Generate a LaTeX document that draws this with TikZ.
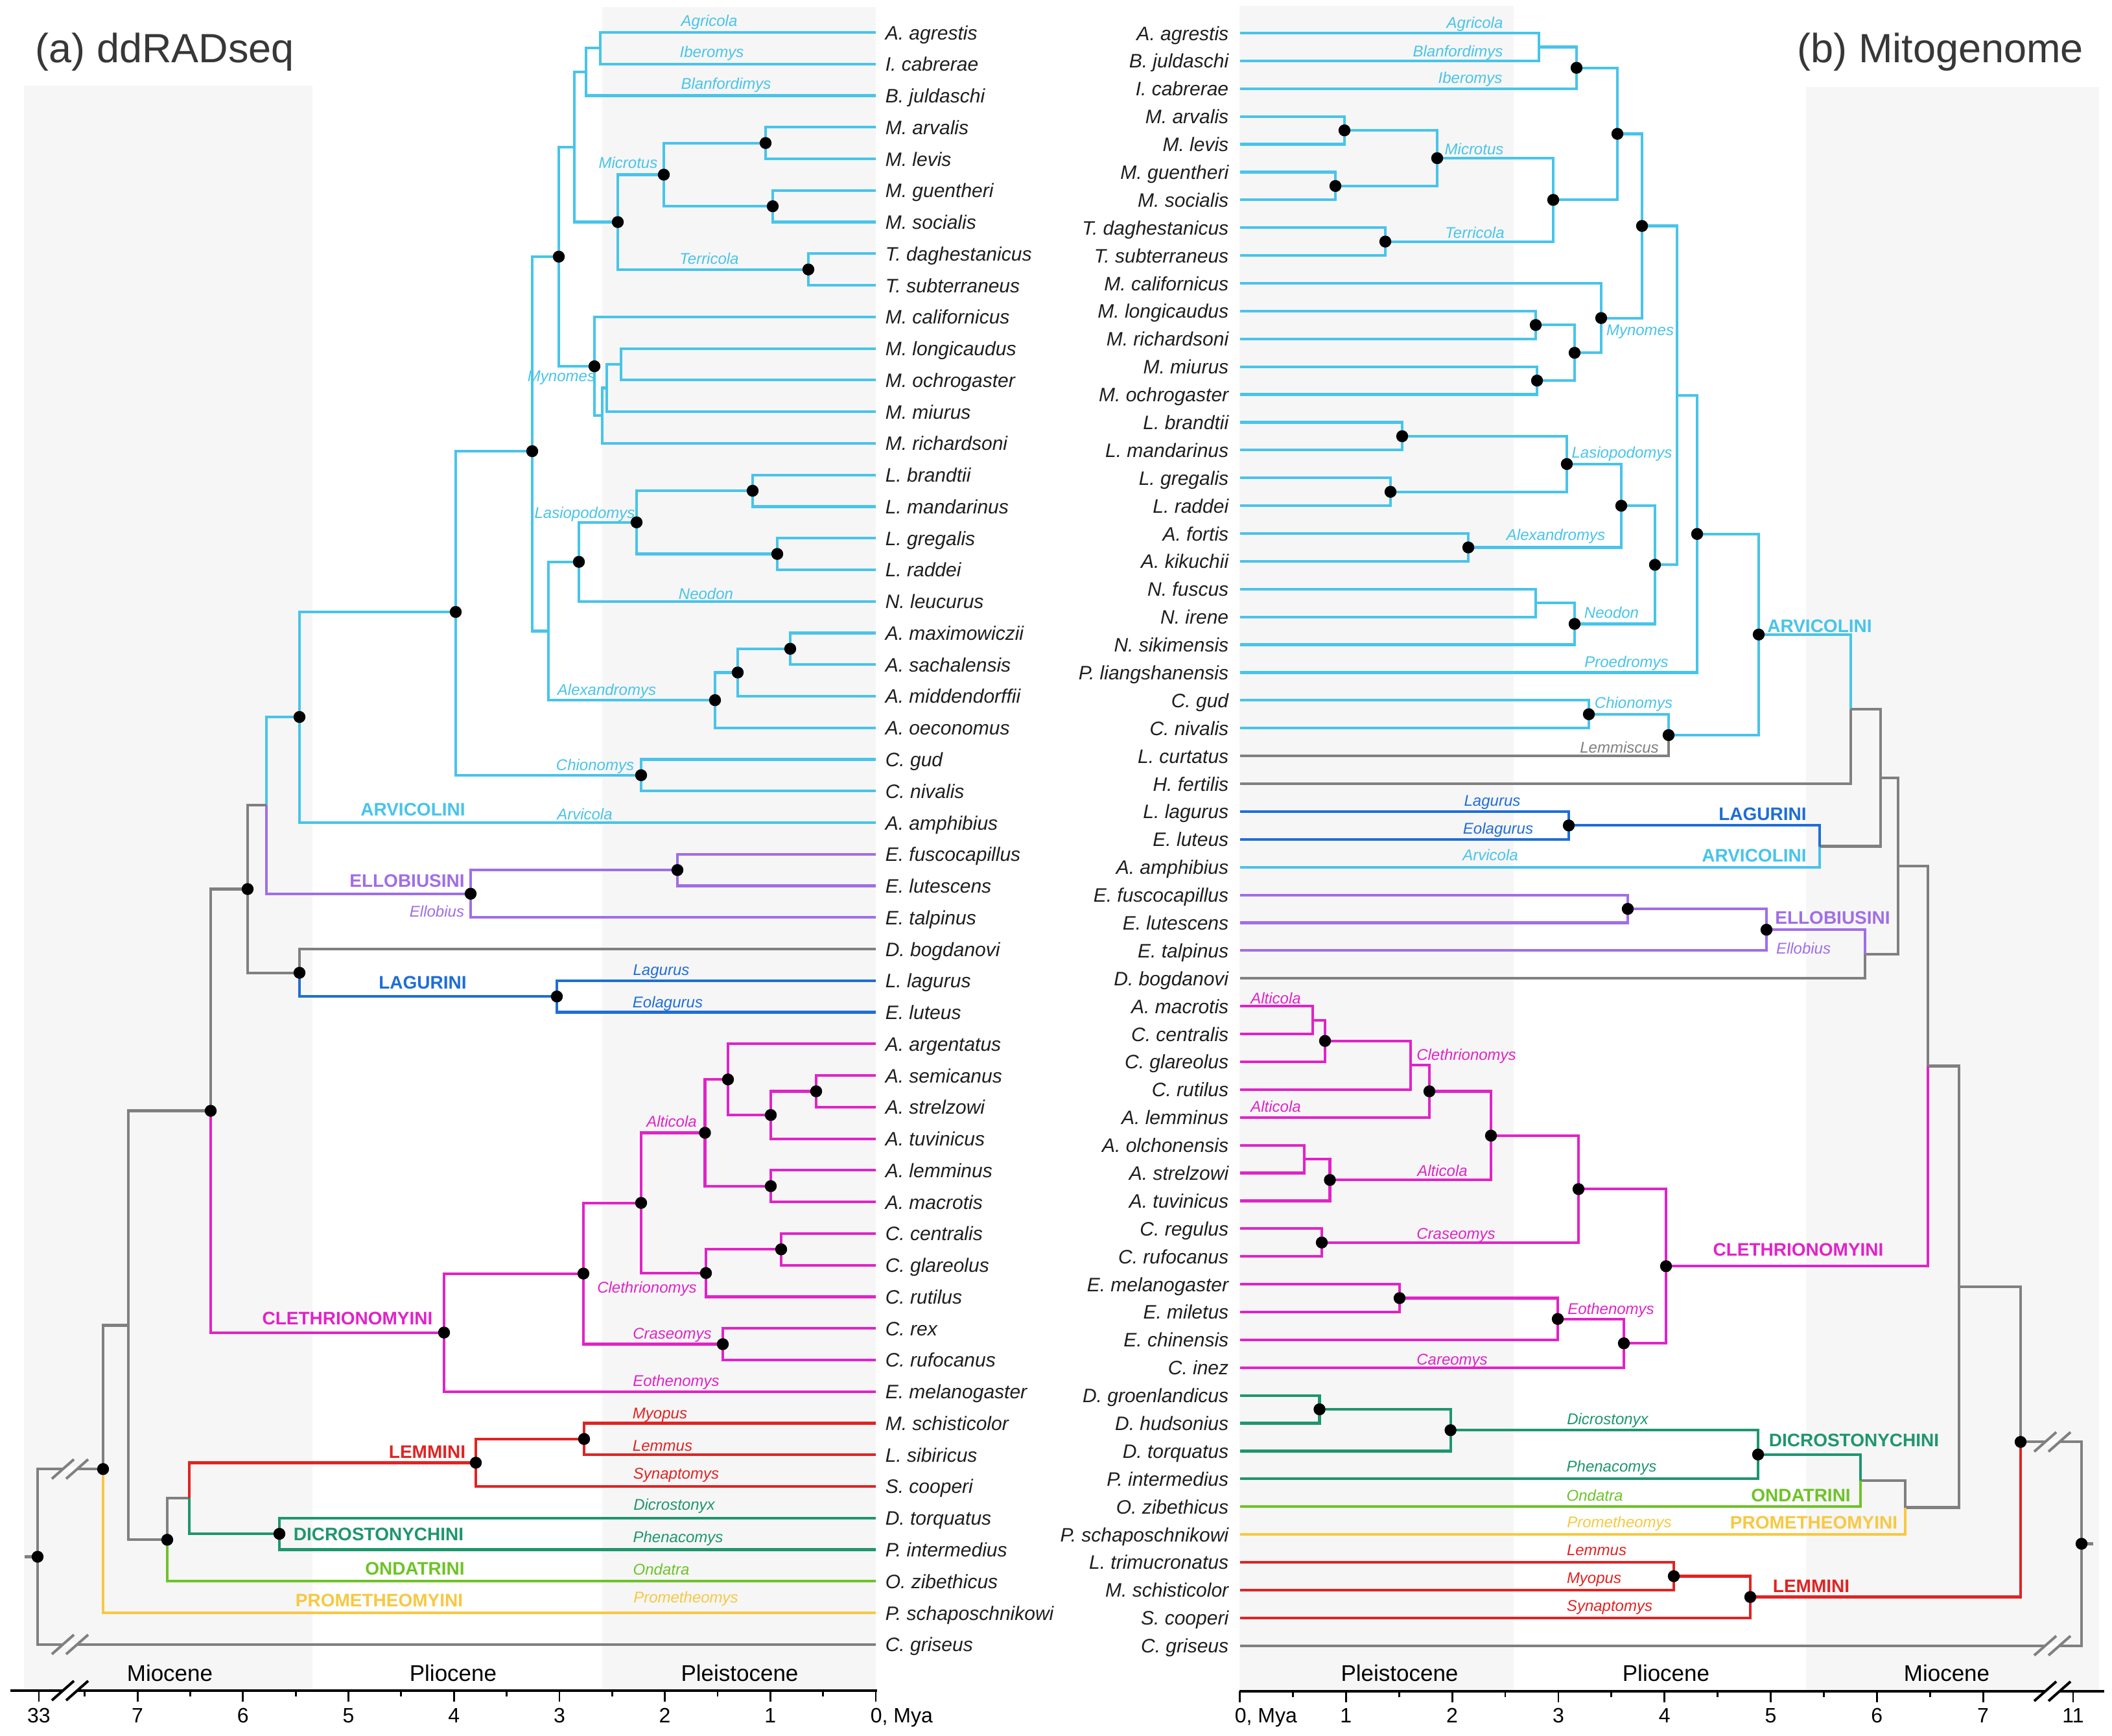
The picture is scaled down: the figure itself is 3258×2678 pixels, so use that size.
\documentclass[tikz,border=0pt]{standalone}
\usepackage{fontspec}
\setmainfont{Liberation Sans}
\definecolor{cyb}{RGB}{72,196,234}
\definecolor{lagb}{RGB}{30,110,215}
\definecolor{purp}{RGB}{160,110,230}
\definecolor{magc}{RGB}{225,35,200}
\definecolor{redc}{RGB}{225,35,35}
\definecolor{tealc}{RGB}{30,150,110}
\definecolor{grnc}{RGB}{110,195,40}
\definecolor{yelc}{RGB}{248,200,65}
\definecolor{gryc}{RGB}{128,128,128}
\definecolor{bgs}{RGB}{246,246,246}
\definecolor{spc}{RGB}{30,30,30}
\definecolor{ttl}{RGB}{55,55,55}
\newcommand\brkmark[4]{%
  \draw[white,line width=1.8pt] (#1,#3) -- (#2,#3);
  \draw[#4,line width=1pt] ({#1-17},{#3+15}) -- ({#1+17},{#3-15});
  \draw[#4,line width=1pt] ({#2-17},{#3+15}) -- ({#2+17},{#3-15});}
\begin{document}
\begin{tikzpicture}[x=0.25pt,y=-0.25pt,
  br/.style={line width=1.05pt},
  sp/.style={font=\fontsize{7.5pt}{9pt}\selectfont\itshape, text=spc, inner sep=0pt},
  gen/.style={font=\fontsize{6pt}{7pt}\selectfont\itshape, inner sep=0pt, anchor=base},
  trb/.style={font=\fontsize{7pt}{8pt}\selectfont\bfseries, inner sep=0pt, anchor=base},
  epo/.style={font=\fontsize{8.75pt}{10pt}\selectfont, inner sep=0pt, anchor=base},
  tkl/.style={font=\fontsize{8pt}{9pt}\selectfont, inner sep=0pt, anchor=base},
  dot/.style={fill=black}]
\useasboundingbox (0,0) rectangle (3258,2678);
\fill[white] (0,0) rectangle (3258,2678);
% epoch shading
\fill[bgs] (37,132) rectangle (482,2607);
\fill[bgs] (929,11) rectangle (1351,2607);
\fill[bgs] (1912,9) rectangle (2335,2607);
\fill[bgs] (2786,134) rectangle (3238,2607);
% titles
\node[font=\fontsize{15.75pt}{18pt}\selectfont, text=ttl, inner sep=0pt, anchor=base west] (ta) at (54,96) {(a) ddRADseq};
\node[font=\fontsize{15.75pt}{18pt}\selectfont, text=ttl, inner sep=0pt, anchor=base west] (tb) at (2772,96) {(b) Mitogenome};
% ---------------- left species
\foreach \i/\n in {1/A. agrestis,2/I. cabrerae,3/B. juldaschi,4/M. arvalis,5/M. levis,6/M. guentheri,7/M. socialis,8/T. daghestanicus,9/T. subterraneus,10/M. californicus,11/M. longicaudus,12/M. ochrogaster,13/M. miurus,14/M. richardsoni,15/L. brandtii,16/L. mandarinus,17/L. gregalis,18/L. raddei,19/N. leucurus,20/A. maximowiczii,21/A. sachalensis,22/A. middendorffii,23/A. oeconomus,24/C. gud,25/C. nivalis,26/A. amphibius,27/E. fuscocapillus,28/E. lutescens,29/E. talpinus,30/D. bogdanovi,31/L. lagurus,32/E. luteus,33/A. argentatus,34/A. semicanus,35/A. strelzowi,36/A. tuvinicus,37/A. lemminus,38/A. macrotis,39/C. centralis,40/C. glareolus,41/C. rutilus,42/C. rex,43/C. rufocanus,44/E. melanogaster,45/M. schisticolor,46/L. sibiricus,47/S. cooperi,48/D. torquatus,49/P. intermedius,50/O. zibethicus,51/P. schaposchnikowi,52/C. griseus}{
  \pgfmathsetmacro\yy{50+(\i-1)*48.76}
  \coordinate (la\i) at (1351,\yy);
  \node[sp,anchor=base west] (lt\i) at (1365,{\yy+11}) {\n};
}
% ---------------- right species
\foreach \i/\n in {1/A. agrestis,2/B. juldaschi,3/I. cabrerae,4/M. arvalis,5/M. levis,6/M. guentheri,7/M. socialis,8/T. daghestanicus,9/T. subterraneus,10/M. californicus,11/M. longicaudus,12/M. richardsoni,13/M. miurus,14/M. ochrogaster,15/L. brandtii,16/L. mandarinus,17/L. gregalis,18/L. raddei,19/A. fortis,20/A. kikuchii,21/N. fuscus,22/N. irene,23/N. sikimensis,24/P. liangshanensis,25/C. gud,26/C. nivalis,27/L. curtatus,28/H. fertilis,29/L. lagurus,30/E. luteus,31/A. amphibius,32/E. fuscocapillus,33/E. lutescens,34/E. talpinus,35/D. bogdanovi,36/A. macrotis,37/C. centralis,38/C. glareolus,39/C. rutilus,40/A. lemminus,41/A. olchonensis,42/A. strelzowi,43/A. tuvinicus,44/C. regulus,45/C. rufocanus,46/E. melanogaster,47/E. miletus,48/E. chinensis,49/C. inez,50/D. groenlandicus,51/D. hudsonius,52/D. torquatus,53/P. intermedius,54/O. zibethicus,55/P. schaposchnikowi,56/L. trimucronatus,57/M. schisticolor,58/S. cooperi,59/C. griseus}{
  \pgfmathsetmacro\yy{51+(\i-1)*42.89}
  \coordinate (ra\i) at (1912.5,\yy);
  \node[sp,anchor=base east] (rt\i) at (1896,{\yy+11}) {\n};
}
% ---------------- left internal nodes
\coordinate (L_agib) at (926,74.38);
\coordinate (L_agibbl) at (904,110.95);
\coordinate (L_arle) at (1181,220.66);
\coordinate (L_guso) at (1192,318.18);
\coordinate (L_micro) at (1024,269.42);
\coordinate (L_terr) at (1247,415.7);
\coordinate (L_mt) at (953,342.56);
\coordinate (L_abmt) at (886,226.76);
\coordinate (L_lo) at (958,561.98);
\coordinate (L_lom) at (936,598.55);
\coordinate (L_lomr) at (929,641.22);
\coordinate (L_myn) at (917,565.03);
\coordinate (L_3) at (862,395.9);
\coordinate (L_brma) at (1161,757.02);
\coordinate (L_grra) at (1199,854.54);
\coordinate (L_lasio) at (982,805.78);
\coordinate (L_lasne) at (893,866.73);
\coordinate (L_masa) at (1219,1000.82);
\coordinate (L_masmi) at (1138,1037.39);
\coordinate (L_alex) at (1103,1080.06);
\coordinate (L_lna) at (846,973.4);
\coordinate (L_325) at (821,696);
\coordinate (L_chio) at (989,1195.86);
\coordinate (L_398) at (703,944);
\coordinate (L_arv) at (462,1106);
\coordinate (L_fulu) at (1045,1342.14);
\coordinate (L_ell) at (726,1378.71);
\coordinate (L_411) at (411,1242.35);
\coordinate (L_lag) at (859,1537.18);
\coordinate (L_bog) at (462,1500.61);
\coordinate (L_382) at (382,1371.48);
\coordinate (L_sest) at (1259,1683.46);
\coordinate (L_sestu) at (1189,1720.03);
\coordinate (L_arg) at (1123,1665.18);
\coordinate (L_lema) at (1189,1829.74);
\coordinate (L_alti) at (1087.5,1747.46);
\coordinate (L_cegl) at (1205,1927.26);
\coordinate (L_cleth) at (1089,1963.83);
\coordinate (L_alcl) at (989,1855.65);
\coordinate (L_cras) at (1115,2073.54);
\coordinate (L_277) at (900,1964.6);
\coordinate (L_clm) at (685,2055.64);
\coordinate (L_325g) at (325,1713.56);
\coordinate (L_mysi) at (901,2219.82);
\coordinate (L_lemm) at (734,2256.39);
\coordinate (L_dic) at (431,2366.1);
\coordinate (L_292) at (292,2311.25);
\coordinate (L_258) at (258,2375.25);
\coordinate (L_198) at (198,2044.4);
\coordinate (L_159) at (159,2266.2);
\coordinate (L_root) at (58,2401.48);
\coordinate (L_stub) at (38,2401.48);
% ---------------- right internal nodes
\coordinate (R_agbj) at (2374,72.45);
\coordinate (R_agbjib) at (2432,104.61);
\coordinate (R_arle) at (2074,201.11);
\coordinate (R_guso) at (2060,286.9);
\coordinate (R_micro) at (2217,244.0);
\coordinate (R_terr) at (2137,372.68);
\coordinate (R_mt) at (2396,308.34);
\coordinate (R_abmt) at (2495,206.48);
\coordinate (R_lori) at (2369,501.35);
\coordinate (R_mioc) at (2371,587.13);
\coordinate (R_lrmo) at (2429,544.24);
\coordinate (R_myn) at (2470,490.63);
\coordinate (R_379) at (2533,348.56);
\coordinate (R_brma) at (2163,672.91);
\coordinate (R_grra) at (2145,758.69);
\coordinate (R_lasio) at (2417,715.8);
\coordinate (R_foki) at (2265,844.47);
\coordinate (R_lasal) at (2501,780.14);
\coordinate (R_fuir) at (2369,930.25);
\coordinate (R_neo) at (2429,962.42);
\coordinate (R_lan) at (2553,871.28);
\coordinate (R_412) at (2587,609.92);
\coordinate (R_431) at (2618,823.7);
\coordinate (R_chio) at (2451,1101.81);
\coordinate (R_lemmis) at (2574,1133.98);
\coordinate (R_arv) at (2713,978.84);
\coordinate (R_hf) at (2855,1093.94);
\coordinate (R_lag) at (2420,1273.37);
\coordinate (R_lagam) at (2807,1305.54);
\coordinate (R_2901) at (2901,1199.74);
\coordinate (R_fulu) at (2511,1402.04);
\coordinate (R_ell) at (2725,1434.2);
\coordinate (R_ellbog) at (2877,1471.73);
\coordinate (R_2928) at (2928,1335.74);
\coordinate (R_mace) at (2025,1573.6);
\coordinate (R_macegl) at (2044,1605.76);
\coordinate (R_cleth) at (2176,1643.29);
\coordinate (R_clle) at (2205,1683.5);
\coordinate (R_olst) at (2012,1788.05);
\coordinate (R_olsttu) at (2051.5,1820.22);
\coordinate (R_alt) at (2300,1751.86);
\coordinate (R_cras) at (2039,1916.72);
\coordinate (R_319) at (2435,1834.29);
\coordinate (R_memi) at (2159,2002.5);
\coordinate (R_memich) at (2403,2034.67);
\coordinate (R_eoth) at (2505,2072.2);
\coordinate (R_clm) at (2570,1953.25);
\coordinate (R_2974) at (2974,1644.5);
\coordinate (R_grhu) at (2035.5,2174.06);
\coordinate (R_dic2) at (2237.6,2206.23);
\coordinate (R_dic) at (2712,2243.76);
\coordinate (R_ond) at (2870,2283.97);
\coordinate (R_pro) at (2939,2325.52);
\coordinate (R_3022) at (3022,1985.01);
\coordinate (R_trsc) at (2582,2431.4);
\coordinate (R_lem) at (2700,2463.57);
\coordinate (R_3117) at (3117,2224.29);
\coordinate (R_root) at (3211,2381.46);
\coordinate (R_stub) at (3229,2381.46);
% ---------------- left branches
\draw[br,cyb] (L_agib) |- (la1) (L_agib) |- (la2)
  (L_agibbl) |- (L_agib) (L_agibbl) |- (la3)
  (L_arle) |- (la4) (L_arle) |- (la5)
  (L_guso) |- (la6) (L_guso) |- (la7)
  (L_micro) |- (L_arle) (L_micro) |- (L_guso)
  (L_terr) |- (la8) (L_terr) |- (la9)
  (L_mt) |- (L_micro) (L_mt) |- (L_terr)
  (L_abmt) |- (L_agibbl) (L_abmt) |- (L_mt)
  (L_lo) |- (la11) (L_lo) |- (la12)
  (L_lom) |- (L_lo) (L_lom) |- (la13)
  (L_lomr) |- (L_lom) (L_lomr) |- (la14)
  (L_myn) |- (la10) (L_myn) |- (L_lomr)
  (L_3) |- (L_abmt) (L_3) |- (L_myn)
  (L_brma) |- (la15) (L_brma) |- (la16)
  (L_grra) |- (la17) (L_grra) |- (la18)
  (L_lasio) |- (L_brma) (L_lasio) |- (L_grra)
  (L_lasne) |- (L_lasio) (L_lasne) |- (la19)
  (L_masa) |- (la20) (L_masa) |- (la21)
  (L_masmi) |- (L_masa) (L_masmi) |- (la22)
  (L_alex) |- (L_masmi) (L_alex) |- (la23)
  (L_lna) |- (L_lasne) (L_lna) |- (L_alex)
  (L_325) |- (L_3) (L_325) |- (L_lna)
  (L_chio) |- (la24) (L_chio) |- (la25)
  (L_398) |- (L_325) (L_398) |- (L_chio)
  (L_arv) |- (L_398) (L_arv) |- (la26)
  (L_411) |- (L_arv);
\draw[br,purp] (L_411) |- (L_ell) (L_ell) |- (L_fulu) (L_ell) |- (la29)
  (L_fulu) |- (la27) (L_fulu) |- (la28);
\draw[br,gryc] (L_382) |- (L_411) (L_382) |- (L_bog) (L_bog) |- (la30)
  (L_325g) |- (L_382) (L_198) |- (L_325g) (L_198) |- (L_258) (L_258) |- (L_292)
  (L_159) |- (L_198) (L_root) |- (L_159) (L_root) |- (la52) (L_root) -- (L_stub);
\draw[br,lagb] (L_bog) |- (L_lag) (L_lag) |- (la31) (L_lag) |- (la32);
\draw[br,magc] (L_325g) |- (L_clm) (L_clm) |- (L_277) (L_clm) |- (la44)
  (L_277) |- (L_alcl) (L_277) |- (L_cras) (L_cras) |- (la42) (L_cras) |- (la43)
  (L_alcl) |- (L_alti) (L_alcl) |- (L_cleth) (L_cleth) |- (L_cegl) (L_cleth) |- (la41)
  (L_cegl) |- (la39) (L_cegl) |- (la40) (L_alti) |- (L_arg) (L_alti) |- (L_lema)
  (L_lema) |- (la37) (L_lema) |- (la38) (L_arg) |- (la33) (L_arg) |- (L_sestu)
  (L_sestu) |- (L_sest) (L_sestu) |- (la36) (L_sest) |- (la34) (L_sest) |- (la35);
\draw[br,redc] (L_292) |- (L_lemm) (L_lemm) |- (L_mysi) (L_lemm) |- (la47)
  (L_mysi) |- (la45) (L_mysi) |- (la46);
\draw[br,tealc] (L_292) |- (L_dic) (L_dic) |- (la48) (L_dic) |- (la49);
\draw[br,grnc] (L_258) |- (la50);
\draw[br,yelc] (L_159) |- (la51);
% ---------------- right branches
\draw[br,cyb] (R_agbj) |- (ra1) (R_agbj) |- (ra2) (R_agbjib) |- (R_agbj) (R_agbjib) |- (ra3)
  (R_arle) |- (ra4) (R_arle) |- (ra5) (R_guso) |- (ra6) (R_guso) |- (ra7)
  (R_micro) |- (R_arle) (R_micro) |- (R_guso) (R_terr) |- (ra8) (R_terr) |- (ra9)
  (R_mt) |- (R_micro) (R_mt) |- (R_terr) (R_abmt) |- (R_agbjib) (R_abmt) |- (R_mt)
  (R_lori) |- (ra11) (R_lori) |- (ra12) (R_mioc) |- (ra13) (R_mioc) |- (ra14)
  (R_lrmo) |- (R_lori) (R_lrmo) |- (R_mioc) (R_myn) |- (ra10) (R_myn) |- (R_lrmo)
  (R_379) |- (R_abmt) (R_379) |- (R_myn)
  (R_brma) |- (ra15) (R_brma) |- (ra16) (R_grra) |- (ra17) (R_grra) |- (ra18)
  (R_lasio) |- (R_brma) (R_lasio) |- (R_grra) (R_foki) |- (ra19) (R_foki) |- (ra20)
  (R_lasal) |- (R_lasio) (R_lasal) |- (R_foki) (R_fuir) |- (ra21) (R_fuir) |- (ra22)
  (R_neo) |- (R_fuir) (R_neo) |- (ra23) (R_lan) |- (R_lasal) (R_lan) |- (R_neo)
  (R_412) |- (R_379) (R_412) |- (R_lan) (R_431) |- (R_412) (R_431) |- (ra24)
  (R_chio) |- (ra25) (R_chio) |- (ra26) (R_lemmis) |- (R_chio)
  (R_arv) |- (R_431) (R_arv) |- (R_lemmis) (R_hf) |- (R_arv) (R_lagam) |- (ra31);
\draw[br,gryc] (R_lemmis) |- (ra27) (R_hf) |- (ra28) (R_2901) |- (R_hf) (R_2901) |- (R_lagam)
  (R_2928) |- (R_2901) (R_2928) |- (R_ellbog) (R_ellbog) |- (ra35)
  (R_2974) |- (R_2928) (R_3022) |- (R_2974) (R_3022) |- (R_pro) (R_pro) |- (R_ond)
  (R_3117) |- (R_3022) (R_root) |- (R_3117) (R_root) |- (ra59) (R_root) -- (R_stub);
\draw[br,lagb] (R_lagam) |- (R_lag) (R_lag) |- (ra29) (R_lag) |- (ra30);
\draw[br,purp] (R_ellbog) |- (R_ell) (R_ell) |- (R_fulu) (R_ell) |- (ra34)
  (R_fulu) |- (ra32) (R_fulu) |- (ra33);
\draw[br,magc] (R_2974) |- (R_clm) (R_clm) |- (R_319) (R_clm) |- (R_eoth)
  (R_319) |- (R_alt) (R_319) |- (R_cras) (R_alt) |- (R_clle) (R_alt) |- (R_olsttu)
  (R_clle) |- (R_cleth) (R_clle) |- (ra40) (R_cleth) |- (R_macegl) (R_cleth) |- (ra39)
  (R_macegl) |- (R_mace) (R_macegl) |- (ra38) (R_mace) |- (ra36) (R_mace) |- (ra37)
  (R_olsttu) |- (R_olst) (R_olsttu) |- (ra43) (R_olst) |- (ra41) (R_olst) |- (ra42)
  (R_cras) |- (ra44) (R_cras) |- (ra45) (R_eoth) |- (R_memich) (R_eoth) |- (ra49)
  (R_memich) |- (R_memi) (R_memich) |- (ra48) (R_memi) |- (ra46) (R_memi) |- (ra47);
\draw[br,tealc] (R_ond) |- (R_dic) (R_dic) |- (R_dic2) (R_dic) |- (ra53)
  (R_dic2) |- (R_grhu) (R_dic2) |- (ra52) (R_grhu) |- (ra50) (R_grhu) |- (ra51);
\draw[br,grnc] (R_ond) |- (ra54);
\draw[br,yelc] (R_pro) |- (ra55);
\draw[br,redc] (R_3117) |- (R_lem) (R_lem) |- (R_trsc) (R_lem) |- (ra58)
  (R_trsc) |- (ra56) (R_trsc) |- (ra57);
% ---------------- dots
\foreach \d in {L_arle,L_guso,L_micro,L_terr,L_mt,L_myn,L_3,L_brma,L_grra,L_lasio,L_lasne,L_masa,L_masmi,L_alex,L_325,L_chio,L_398,L_arv,L_fulu,L_ell,L_lag,L_bog,L_382,L_sest,L_sestu,L_arg,L_lema,L_alti,L_cegl,L_cleth,L_alcl,L_cras,L_277,L_clm,L_325g,L_mysi,L_lemm,L_dic,L_258,L_159,L_root,
  R_agbjib,R_arle,R_guso,R_micro,R_terr,R_mt,R_abmt,R_lori,R_mioc,R_lrmo,R_myn,R_379,R_brma,R_grra,R_lasio,R_foki,R_lasal,R_neo,R_lan,R_431,R_chio,R_lemmis,R_arv,R_lag,R_fulu,R_ell,R_macegl,R_clle,R_olsttu,R_alt,R_cras,R_319,R_memi,R_memich,R_eoth,R_clm,R_grhu,R_dic2,R_dic,R_trsc,R_lem,R_3117,R_root}
  {\fill[dot] (\d) circle[radius=2.3pt];}
% ---------------- axes
\draw[line width=0.8pt] (16,2608) -- (1353,2608);
\draw[line width=0.8pt] (1912,2609) -- (3246,2609);
\foreach \t in {0,...,7} {\draw[line width=0.7pt] ({1351-162.7*\t},2608) -- ({1351-162.7*\t},2625);}
\draw[line width=0.7pt] (60,2608) -- (60,2625);
\foreach \t in {0.5,1.5,...,7.5} {\draw[line width=0.7pt] ({1351-162.7*\t},2608) -- ({1351-162.7*\t},2617);}
\foreach \t in {0,...,7} {\draw[line width=0.7pt] ({1912.5+163.8*\t},2609) -- ({1912.5+163.8*\t},2626);}
\draw[line width=0.7pt] (3198,2609) -- (3198,2626);
\foreach \t in {0.5,1.5,...,6.5} {\draw[line width=0.7pt] ({1912.5+163.8*\t},2609) -- ({1912.5+163.8*\t},2618);}
% tick labels
\node[tkl] (lk33) at (60,2657) {33};
\foreach \t in {1,...,7} {\node[tkl] (lk\t) at ({1351-162.7*\t},2657) {\t};}
\node[tkl,anchor=base west] (lk0) at (1342,2657) {0, Mya};
\node[tkl,anchor=base west] (rk0) at (1904,2657) {0, Mya};
\foreach \t in {1,...,7} {\node[tkl] (rk\t) at ({1912.5+163.8*\t},2657) {\t};}
\node[tkl] (rk11) at (3198,2657) {11};
% breaks
\brkmark{97}{119}{2266.2}{gryc}
\brkmark{97}{119}{2536.76}{gryc}
\brkmark{97}{119}{2608}{black}
\brkmark{3155}{3177}{2224.29}{gryc}
\brkmark{3155}{3177}{2538.62}{gryc}
\brkmark{3155}{3177}{2609}{black}
% epochs
\node[epo] (e1) at (262,2593) {Miocene};
\node[epo] (e2) at (699,2593) {Pliocene};
\node[epo] (e3) at (1141,2593) {Pleistocene};
\node[epo] (e4) at (2159,2593) {Pleistocene};
\node[epo] (e5) at (2570,2593) {Pliocene};
\node[epo] (e6) at (3003,2593) {Miocene};
% ---------------- left labels
\node[gen,cyb] (g1) at (1094,40.6) {Agricola};
\node[gen,cyb] (g2) at (1098,88) {Iberomys};
\node[gen,cyb] (g3) at (1120,137) {Blanfordimys};
\node[gen,cyb] (g4) at (969,259) {Microtus};
\node[gen,cyb] (g5) at (1094,407) {Terricola};
\node[gen,cyb] (g6) at (866,588) {Mynomes};
\node[gen,cyb] (g7) at (902,799.5) {Lasiopodomys};
\node[gen,cyb] (g8) at (1089,924.5) {Neodon};
\node[gen,cyb] (g9) at (936,1072) {Alexandromys};
\node[gen,cyb] (g10) at (918,1188) {Chionomys};
\node[gen,cyb] (g11) at (902,1264) {Arvicola};
\node[gen,purp] (g12) at (674,1414) {Ellobius};
\node[gen,lagb] (g13) at (1020,1504) {Lagurus};
\node[gen,lagb] (g14) at (1030,1554) {Eolagurus};
\node[gen,magc] (g15) at (1036,1738) {Alticola};
\node[gen,magc] (g16) at (998,1994) {Clethrionomys};
\node[gen,magc] (g17) at (1037,2065) {Craseomys};
\node[gen,magc] (g18) at (1043,2138) {Eothenomys};
\node[gen,redc] (g19) at (1018,2188) {Myopus};
\node[gen,redc] (g20) at (1022,2238) {Lemmus};
\node[gen,redc] (g21) at (1043,2281.5) {Synaptomys};
\node[gen,tealc] (g22) at (1040,2329) {Dicrostonyx};
\node[gen,tealc] (g23) at (1046,2379) {Phenacomys};
\node[gen,grnc] (g24) at (1020,2429) {Ondatra};
\node[gen,yelc] (g25) at (1058,2472) {Prometheomys};
\node[trb,cyb] (tr1) at (637,1258) {ARVICOLINI};
\node[trb,purp] (tr2) at (628,1368) {ELLOBIUSINI};
\node[trb,lagb] (tr3) at (652,1525) {LAGURINI};
\node[trb,magc] (tr4) at (536,2043) {CLETHRIONOMYINI};
\node[trb,redc] (tr5) at (659,2249) {LEMMINI};
\node[trb,tealc] (tr6) at (584,2376) {DICROSTONYCHINI};
\node[trb,grnc] (tr7) at (640,2429) {ONDATRINI};
\node[trb,yelc] (tr8) at (585,2478) {PROMETHEOMYINI};
% ---------------- right labels
\node[gen,cyb] (h1) at (2275,43.7) {Agricola};
\node[gen,cyb] (h2) at (2249,87.5) {Blanfordimys};
\node[gen,cyb] (h3) at (2268,128.5) {Iberomys};
\node[gen,cyb] (h4) at (2274,238) {Microtus};
\node[gen,cyb] (h5) at (2275,367) {Terricola};
\node[gen,cyb] (h6) at (2530,517) {Mynomes};
\node[gen,cyb] (h7) at (2502,706) {Lasiopodomys};
\node[gen,cyb] (h8) at (2400,833) {Alexandromys};
\node[gen,cyb] (h9) at (2486,953.5) {Neodon};
\node[gen,cyb] (h10) at (2509,1029) {Proedromys};
\node[gen,cyb] (h11) at (2520,1092) {Chionomys};
\node[gen,gryc] (h12) at (2498,1161) {Lemmiscus};
\node[gen,lagb] (h13) at (2302,1243) {Lagurus};
\node[gen,lagb] (h14) at (2311,1286.6) {Eolagurus};
\node[gen,cyb] (h15) at (2299,1327.6) {Arvicola};
\node[gen,purp] (h16) at (2782,1471) {Ellobius};
\node[gen,magc] (h17) at (1968,1548) {Alticola};
\node[gen,magc] (h18) at (2262,1635) {Clethrionomys};
\node[gen,magc] (h19) at (1968,1715) {Alticola};
\node[gen,magc] (h20) at (2225,1814.7) {Alticola};
\node[gen,magc] (h21) at (2246,1911.6) {Craseomys};
\node[gen,magc] (h22) at (2485,2027.6) {Eothenomys};
\node[gen,magc] (h23) at (2240,2105.6) {Careomys};
\node[gen,tealc] (h24) at (2480,2197) {Dicrostonyx};
\node[gen,tealc] (h25) at (2486,2270.4) {Phenacomys};
\node[gen,grnc] (h26) at (2460,2315.5) {Ondatra};
\node[gen,yelc] (h27) at (2498,2356) {Prometheomys};
\node[gen,redc] (h28) at (2463,2399) {Lemmus};
\node[gen,redc] (h29) at (2459,2442) {Myopus};
\node[gen,redc] (h30) at (2483,2485) {Synaptomys};
\node[trb,cyb] (s1) at (2807,975.6) {ARVICOLINI};
\node[trb,lagb] (s2) at (2719,1265) {LAGURINI};
\node[trb,cyb] (s3) at (2706,1329.6) {ARVICOLINI};
\node[trb,purp] (s4) at (2827,1425) {ELLOBIUSINI};
\node[trb,magc] (s5) at (2774,1937) {CLETHRIONOMYINI};
\node[trb,tealc] (s6) at (2860,2231.6) {DICROSTONYCHINI};
\node[trb,grnc] (s7) at (2778,2316.5) {ONDATRINI};
\node[trb,yelc] (s8) at (2798,2358) {PROMETHEOMYINI};
\node[trb,redc] (s9) at (2794,2456.7) {LEMMINI};
\end{tikzpicture}
\end{document}
